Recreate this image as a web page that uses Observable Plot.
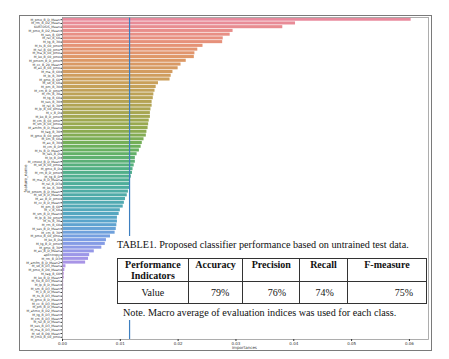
<!DOCTYPE html>
<html>
<head>
<meta charset="utf-8">
<script src="https://cdn.jsdelivr.net/npm/d3@7"></script>
<script src="https://cdn.jsdelivr.net/npm/@observablehq/plot@0.6"></script>
<style>
  body { margin: 0; background: #fff; }
  #wrap { position: relative; width: 449px; height: 359px; overflow: hidden; background: #fff; }
  #chart { position: absolute; left: 0; top: 0; }
  #outer { position: absolute; left: 19px; top: 15px; width: 411px; height: 334px; border: 1.5px solid #7a7a7a; pointer-events: none; }
  .lbl { position: absolute; font-family: "DejaVu Sans", sans-serif; font-size: 4px; color: #333; white-space: nowrap; }
  #patch { position: absolute; left: 113px; top: 236px; width: 314px; height: 84px; background: #fff; }
  #caption { position: absolute; left: 4px; top: 3px; font-family: "Liberation Serif", "Times New Roman", serif; font-size: 10.2px; color: #111; white-space: nowrap; }
  #note { position: absolute; left: 10px; top: 71px; font-family: "Liberation Serif", "Times New Roman", serif; font-size: 10.2px; color: #111; white-space: nowrap; }
  table { position: absolute; left: 4px; top: 22px; border-collapse: collapse; font-family: "Liberation Serif", "Times New Roman", serif; font-size: 10px; color: #111; }
  td, th { border: 1px solid #333; padding: 0; }
  th { font-weight: bold; vertical-align: top; text-align: center; height: 21px; line-height: 10.5px; padding-top: 1px; }
  td { height: 21px; text-align: right; padding-right: 13px; }
  td.first { text-align: center; padding-right: 0; }
</style>
</head>
<body>
<div id="wrap">
  <div id="chart"></div>
  <div id="outer"></div>
  <div class="lbl" style="left:232px; top:345px;">importances</div>
  <div class="lbl" style="left:12px; top:176px; transform: rotate(-90deg); transform-origin: center;">feature_name</div>
  <div id="patch">
    <div id="caption">TABLE1. Proposed classifier performance based on untrained test data.</div>
    <table id="tbl"></table>
    <div id="note">Note. Macro average of evaluation indices was used for each class.</div>
  </div>
</div>
<script>
// ---- Data ----
const features = [
  "M_pmo_B_D_Mean","M_rm_B_D2_Mean","KURTOSIS_Mean","M_pmo_B_D2_Mean","M_ses_B_60","M_rel_B_60","M_tg_B_30","M_ts_B_60_pmo","M_rel_B_60_pmo","M_ma_B_60_pmo",
  "M_ko_B_60_pmo","M_pmom_B_D_pmo","M_cc_B_20_Mean","M_ax_B_60_pmo","M_ma_B_60","M_lp_B_30","M_gmo_B_60","M_sd_B_60","M_pm_B_30","M_cm_B_D_pmo",
  "M_rm_B_30","M_tg_B_60","M_ses_B_30","M_rel_B_30","M_lp_B_60_pmo","M_v_B_D","M_ko_B_D_pmo","M_cm_B_60_pmo","M_sm_B_60_pmo","M_amfm_B_D_Mean",
  "M_tag_B_30","M_gmo_B_60_pmo","M_sm_B_60","M_ax_B_30","M_cm_B_D","M_ts_B_D_Mean","M_ses_B_D","M_lp_B_D","M_cmost_B_D_Mean","M_sd_B_60_pmo",
  "M_gmo_B_D","M_rm_B_D_pmo","M_tg_B_D","M_ma_B_D_Mean","M_rel_B_D3","M_ko_B_30","M_pmom_B_D_Mean","M_sd_B_D_Mean","M_ax_B_D_pmo","M_cc_B_D_Mean",
  "M_pm_B_60","M_v_B_60","M_sm_B_D_Mean","M_lp_B_30_pmo","M_ts_B_30","M_rm_B_60","M_ses_B_D_Mean","M_cm_B_30","M_pmo_B_60_pmo","M_ko_B_D",
  "M_tg_B_D_pmo","M_gmo_B_30","M_ax_B_D_Mean","apEntropy","M_rm_B_D3","M_amfm_B_D_Mean2","M_sd_B_D3_Mean","M_pmo_B_D0_Mean","M_tag_B_60","M_ko_B_D_Mean",
  "M_ho_B_D3_Mean","M_lp_B_D_Mean","M_sm_B_D3_Mean","M_v_B_D_Mean","M_ts_B_D3_Mean","M_gmo_B_D_Mean","M_cc_B_D3_Mean","M_pm_B_D_Mean","M_ahmo_B_D2_Mean","M_tg_B_D3_Mean",
  "M_cm_B_D3_Mean","M_rel_B_D_Mean","M_ses_B_D3_Mean","M_ma_B_D3_Mean","M_sd_B_D0_Mean","M_cmo_B_60_pmo"
];
const importances = [
  0.0603,0.0403,0.0381,0.0295,0.0290,0.0278,0.0277,0.0243,0.0234,0.0229,
  0.0228,0.0214,0.0205,0.0200,0.0191,0.0188,0.0186,0.0166,0.0162,0.0160,
  0.0158,0.0157,0.0155,0.0155,0.0153,0.0152,0.0152,0.0150,0.0149,0.0148,
  0.0146,0.0145,0.0141,0.0138,0.0136,0.0133,0.0129,0.0126,0.0126,0.0124,
  0.0122,0.0121,0.0119,0.0117,0.0116,0.0116,0.0114,0.0112,0.0109,0.0107,
  0.0105,0.0100,0.0098,0.0095,0.0095,0.0094,0.0093,0.0091,0.0083,0.0076,
  0.0074,0.0068,0.0055,0.0047,0.0045,0.0040,0.0006,0.0004,0.0003,0.0003,
  0.0002,0.0002,0.0002,0.0001,0.0001,0.0001,0.0001,0.0001,0.0001,0.0001,
  0.0001,0.0000,0.0000,0.0000,0.0000,0.0000
];
const meanImportance = 0.0116;
const xTicks = [0, 0.01, 0.02, 0.03, 0.04, 0.05, 0.06];

const tableHeaders = ["Performance Indicators", "Accuracy", "Precision", "Recall", "F-measure"];
const tableRowLabel = "Value";
const tableValues = ["79%", "76%", "74%", "75%"];
const colWidths = [71, 55, 57, 48, 80];

// ---- Palette (husl-like, desaturated) ----
const palStops = [0, 0.06, 0.12, 0.20, 0.27, 0.34, 0.40, 0.47, 0.53, 0.59, 0.64, 0.69, 0.74, 0.80, 0.90, 1];
const palColors = ["#e88a9d","#e8907f","#df9767","#c9a05a","#b1a453","#95aa4f","#6cb05a","#52b084","#4eada0","#52a9b6","#5aa4cd","#7a9ee4","#9c97e8","#b98fe4","#d486d4","#e182b5"];
const pal = d3.scaleLinear().domain(palStops).range(palColors).interpolate(d3.interpolateRgb);

const data = features.map((f, i) => ({name: f, value: importances[i], color: pal(i / (features.length - 1))}));

const chart = Plot.plot({
  width: 449,
  height: 359,
  marginLeft: 62,
  marginRight: 21,
  marginTop: 17,
  marginBottom: 20,
  style: {fontFamily: "DejaVu Sans, sans-serif", fontSize: "4px", background: "white", color: "#333"},
  x: {domain: [0, 0.0633]},
  y: {domain: features, padding: 0.18},
  marks: [
    Plot.barX(data, {x: "value", y: "name", fill: "color"}),
    Plot.ruleX([meanImportance], {stroke: "#3d7fc0", strokeWidth: 1.2}),
    Plot.frame({stroke: "#9a9a9a", strokeWidth: 0.8}),
    Plot.axisX({ticks: xTicks, tickFormat: d3.format(".2f"), tickSize: 2, tickPadding: 1, fontSize: 4, label: null}),
    Plot.axisY({tickSize: 1.5, tickPadding: 1, fontSize: 3.2, label: null})
  ]
});
document.getElementById("chart").appendChild(chart);

// ---- Table overlay ----
const tbl = document.getElementById("tbl");
const cg = document.createElement("colgroup");
colWidths.forEach(w => { const c = document.createElement("col"); c.style.width = w + "px"; cg.appendChild(c); });
tbl.appendChild(cg);
const trh = document.createElement("tr");
tableHeaders.forEach((h, i) => {
  const th = document.createElement("th");
  if (i === 0) { th.innerHTML = "Performance<br>Indicators"; } else { th.textContent = h; }
  trh.appendChild(th);
});
tbl.appendChild(trh);
const trv = document.createElement("tr");
const td0 = document.createElement("td"); td0.className = "first"; td0.textContent = tableRowLabel; trv.appendChild(td0);
tableValues.forEach(v => { const td = document.createElement("td"); td.textContent = v; trv.appendChild(td); });
tbl.appendChild(trv);
</script>
</body>
</html>
